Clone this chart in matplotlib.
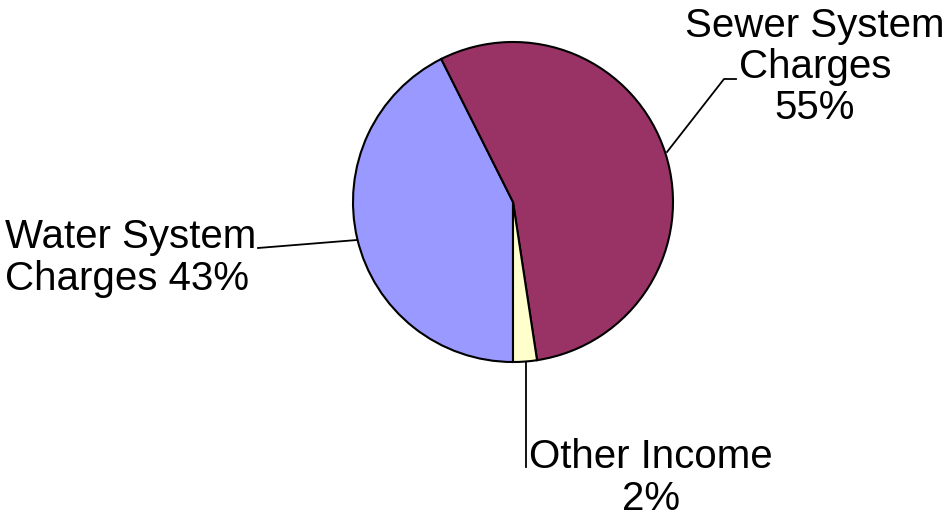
import matplotlib
matplotlib.use("Agg")
import matplotlib.pyplot as plt

# Data (clockwise from the bottom)
categories = ["Water System Charges", "Sewer System Charges", "Other Income"]
values = [42.6, 55.0, 2.4]
colors = ["#9999FF", "#993366", "#FFFFCC"]
label_texts = ["Water System\nCharges 43%", "Sewer System\nCharges\n55%", "Other Income\n2%"]

W, H = 945, 518
fig = plt.figure(figsize=(W / 100, H / 100), dpi=100)
ax = fig.add_axes([0, 0, 1, 1])
ax.set_xlim(0, W)
ax.set_ylim(0, H)
ax.set_aspect("equal")
ax.axis("off")

cx, cy, r = 513, H - 202, 160
ax.pie(values, colors=colors, startangle=270, counterclock=False,
       center=(cx, cy), radius=r, frame=True,
       wedgeprops=dict(edgecolor="black", linewidth=1.5))
ax.set_xlim(0, W)
ax.set_ylim(0, H)
ax.axis("off")

font = dict(family=["Liberation Sans", "DejaVu Sans"], fontsize=29, color="black")
ls = 1.1

# Water
ax.text(5, H - 258, label_texts[0], ha="left", va="center", multialignment="left",
        linespacing=ls, **font)
ax.plot([357, 258], [H - 240, H - 248], color="black", lw=1.3)
# Sewer
ax.text(815, H - 67, label_texts[1], ha="center", va="center", multialignment="center",
        linespacing=ls, **font)
ax.plot([667, 724, 736], [H - 152, H - 79, H - 79], color="black", lw=1.3)
# Other
ax.text(651, H - 478, label_texts[2], ha="center", va="center", multialignment="center",
        linespacing=ls, **font)
ax.plot([526, 526], [H - 362, H - 467], color="black", lw=1.3)

fig.savefig("out.png", dpi=100)
